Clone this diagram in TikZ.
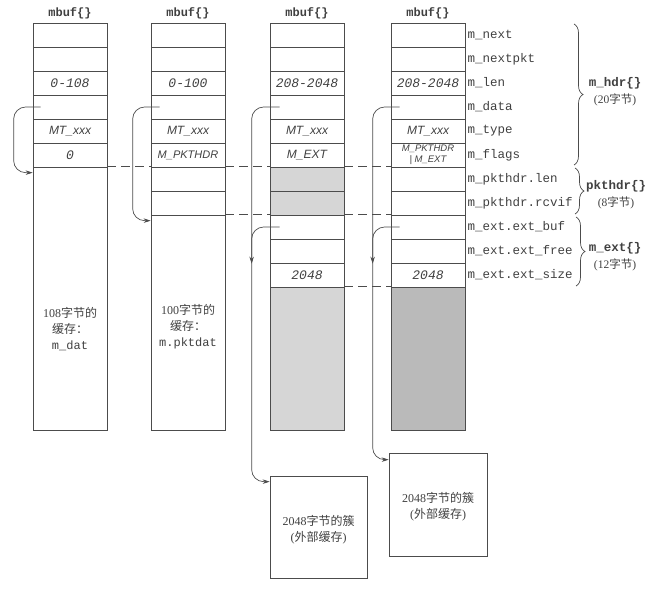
\documentclass[tikz,border=0pt]{standalone}
\usepackage{fontspec}
\setmainfont{Liberation Serif}
\setmonofont{Liberation Mono}
\newfontfamily\cjk{Noto Sans CJK SC}
\newfontfamily\isans{Liberation Sans}
\usetikzlibrary{arrows.meta,decorations.pathreplacing}
\definecolor{lc}{gray}{0.3}
\definecolor{tc}{gray}{0.25}
\definecolor{shA}{gray}{0.84}
\definecolor{shB}{gray}{0.73}
\tikzset{
  cell/.style={draw=lc, line width=0.7pt, minimum width=74pt, minimum height=24pt, inner sep=0pt, text=tc},
  num/.style={font=\ttfamily\itshape\fontsize{13}{13}\selectfont},
  flag/.style={font=\isans\itshape\fontsize{12}{12}\selectfont},
  fld/.style={anchor=west, inner sep=1pt, text=tc, font=\ttfamily\fontsize{12.5}{12.5}\selectfont},
  hdr/.style={text=tc, font=\ttfamily\bfseries\fontsize{12}{12}\selectfont},
  conn/.style={draw=lc, line width=0.7pt, rounded corners=12pt, -{Stealth[length=7pt,width=4.5pt]}},
  dashline/.style={draw=lc, line width=0.7pt, dash pattern=on 9pt off 5pt},
  brc/.style={draw=lc, line width=0.7pt, decorate, decoration={brace, amplitude=9pt}},
  btxt/.style={text=tc, font=\fontsize{12}{16}\selectfont, align=center},
  grp/.style={text=tc, font=\fontsize{11.5}{17}\selectfont, align=center},
  boxc/.style={draw=lc, line width=0.7pt, inner sep=0pt},
}
\begin{document}
\begin{tikzpicture}[x=1pt,y=-1pt]
\useasboundingbox (0,0) rectangle (651,598);
% headers
\node[hdr] (h1) at (70,13) {mbuf\{\}};
\node[hdr] (h2) at (188,13) {mbuf\{\}};
\node[hdr] (h3) at (307,13) {mbuf\{\}};
\node[hdr] (h4) at (428,13) {mbuf\{\}};
% column 1
\node[cell] (a1) at (70,35) {};
\node[cell] (a2) at (70,59) {};
\node[cell,num] (a3) at (70,83) {0-108};
\node[cell] (a4) at (70,107) {};
\node[cell,flag] (a5) at (70,131) {MT\_xxx};
\node[cell,num] (a6) at (70,155) {0};
\node[cell,minimum height=263pt] (a7) at (70,298.5) {};
\node[btxt] (t1) at (70,329) {108{\cjk 字节的}\\{\cjk 缓存：}\\{\ttfamily m\_dat}};
% column 2
\node[cell] (b1) at (188,35) {};
\node[cell] (b2) at (188,59) {};
\node[cell,num] (b3) at (188,83) {0-100};
\node[cell] (b4) at (188,107) {};
\node[cell,flag] (b5) at (188,131) {MT\_xxx};
\node[cell,flag,font=\isans\itshape\fontsize{11}{11}\selectfont] (b6) at (188,155) {M\_PKTHDR};
\node[cell] (b7) at (188,179) {};
\node[cell] (b8) at (188,203) {};
\node[cell,minimum height=215pt] (b9) at (188,322.5) {};
\node[btxt] (t2) at (188,327) {100{\cjk 字节的}\\{\cjk 缓存：}\\{\ttfamily m.pktdat}};
% column 3
\node[cell] (c1) at (307,35) {};
\node[cell] (c2) at (307,59) {};
\node[cell,num] (c3) at (307,83) {208-2048};
\node[cell] (c4) at (307,107) {};
\node[cell,flag] (c5) at (307,131) {MT\_xxx};
\node[cell,flag] (c6) at (307,155) {M\_EXT};
\node[cell,fill=shA] (c7) at (307,179) {};
\node[cell,fill=shA] (c8) at (307,203) {};
\node[cell] (c9) at (307,227) {};
\node[cell] (c10) at (307,251) {};
\node[cell,num] (c11) at (307,275) {2048};
\node[cell,fill=shA,minimum height=143pt] (c12) at (307,358.5) {};
% column 4
\node[cell] (d1) at (428,35) {};
\node[cell] (d2) at (428,59) {};
\node[cell,num] (d3) at (428,83) {208-2048};
\node[cell] (d4) at (428,107) {};
\node[cell,flag] (d5) at (428,131) {MT\_xxx};
\node[cell,font=\isans\itshape\fontsize{9.5}{10.5}\selectfont,align=center] (d6) at (428,155) {M\_PKTHDR\\| M\_EXT};
\node[cell] (d7) at (428,179) {};
\node[cell] (d8) at (428,203) {};
\node[cell] (d9) at (428,227) {};
\node[cell] (d10) at (428,251) {};
\node[cell,num] (d11) at (428,275) {2048};
\node[cell,fill=shB,minimum height=143pt] (d12) at (428,358.5) {};
% field names
\node[fld] (f1) at ([xshift=1pt]d1.east) {m\_next};
\node[fld] (f2) at ([xshift=1pt]d2.east) {m\_nextpkt};
\node[fld] (f3) at ([xshift=1pt]d3.east) {m\_len};
\node[fld] (f4) at ([xshift=1pt]d4.east) {m\_data};
\node[fld] (f5) at ([xshift=1pt]d5.east) {m\_type};
\node[fld] (f6) at ([xshift=1pt]d6.east) {m\_flags};
\node[fld] (f7) at ([xshift=1pt]d7.east) {m\_pkthdr.len};
\node[fld] (f8) at ([xshift=1pt]d8.east) {m\_pkthdr.rcvif};
\node[fld] (f9) at ([xshift=1pt]d9.east) {m\_ext.ext\_buf};
\node[fld] (f10) at ([xshift=1pt]d10.east) {m\_ext.ext\_free};
\node[fld] (f11) at ([xshift=1pt]d11.east) {m\_ext.ext\_size};
% braces
\draw[brc] (574,24) -- (574,165);
\draw[brc] (575,168) -- (575,214);
\draw[brc] (576,217) -- (576,286);
\node[grp] (g1) at (615,91.5) {{\ttfamily\bfseries\fontsize{12.5}{12.5}\selectfont m\_hdr\{\}}\\(20{\cjk 字节})};
\node[grp] (g2) at (616,194.5) {{\ttfamily\bfseries\fontsize{12.5}{12.5}\selectfont pkthdr\{\}}\\(8{\cjk 字节})};
\node[grp] (g3) at (615,256.5) {{\ttfamily\bfseries\fontsize{12.5}{12.5}\selectfont m\_ext\{\}}\\(12{\cjk 字节})};
% clusters
\node[boxc,minimum width=97pt,minimum height=102pt] (k3) at (318.5,527) {};
\node[btxt] (kt3) at (318.5,530) {2048{\cjk 字节的簇}\\({\cjk 外部缓存})};
\node[boxc,minimum width=98pt,minimum height=103pt] (k4) at (438,504.5) {};
\node[btxt] (kt4) at (438,507) {2048{\cjk 字节的簇}\\({\cjk 外部缓存})};
% dashed guide lines
\draw[dashline] (a7.north east) -- (b7.north west);
\draw[dashline] (b7.north east) -- (c7.north west);
\draw[dashline] (c7.north east) -- (d7.north west);
\draw[dashline] (b9.north east) -- (c9.north west);
\draw[dashline] (c9.north east) -- (d9.north west);
\draw[dashline] (c12.north east) -- (d12.north west);
% pointers
\draw[conn] ([xshift=8pt]a4.west) -| ([xshift=-19pt,yshift=-6pt]a7.north west) -- ([yshift=-6pt]a7.north west);
\draw[conn] ([xshift=9pt]b4.west) -| ([xshift=-18pt,yshift=-6pt]b9.north west) -- ([yshift=-6pt]b9.north west);
\draw[conn] ([xshift=10pt]c4.west) -| ([xshift=-18pt,yshift=-6pt]k3.north west) -- ([yshift=-6pt]k3.north west);
\draw[conn] ([xshift=10pt]c9.west) -| ([xshift=-18pt,yshift=-1pt]c11.north west);
\draw[conn] ([xshift=9pt]d4.west) -| ([xshift=-16pt,yshift=-7pt]k4.north west) -- ([yshift=-7pt]k4.north west);
\draw[conn] ([xshift=9pt]d9.west) -| ([xshift=-18pt,yshift=-1pt]d11.north west);
\end{tikzpicture}
\end{document}
